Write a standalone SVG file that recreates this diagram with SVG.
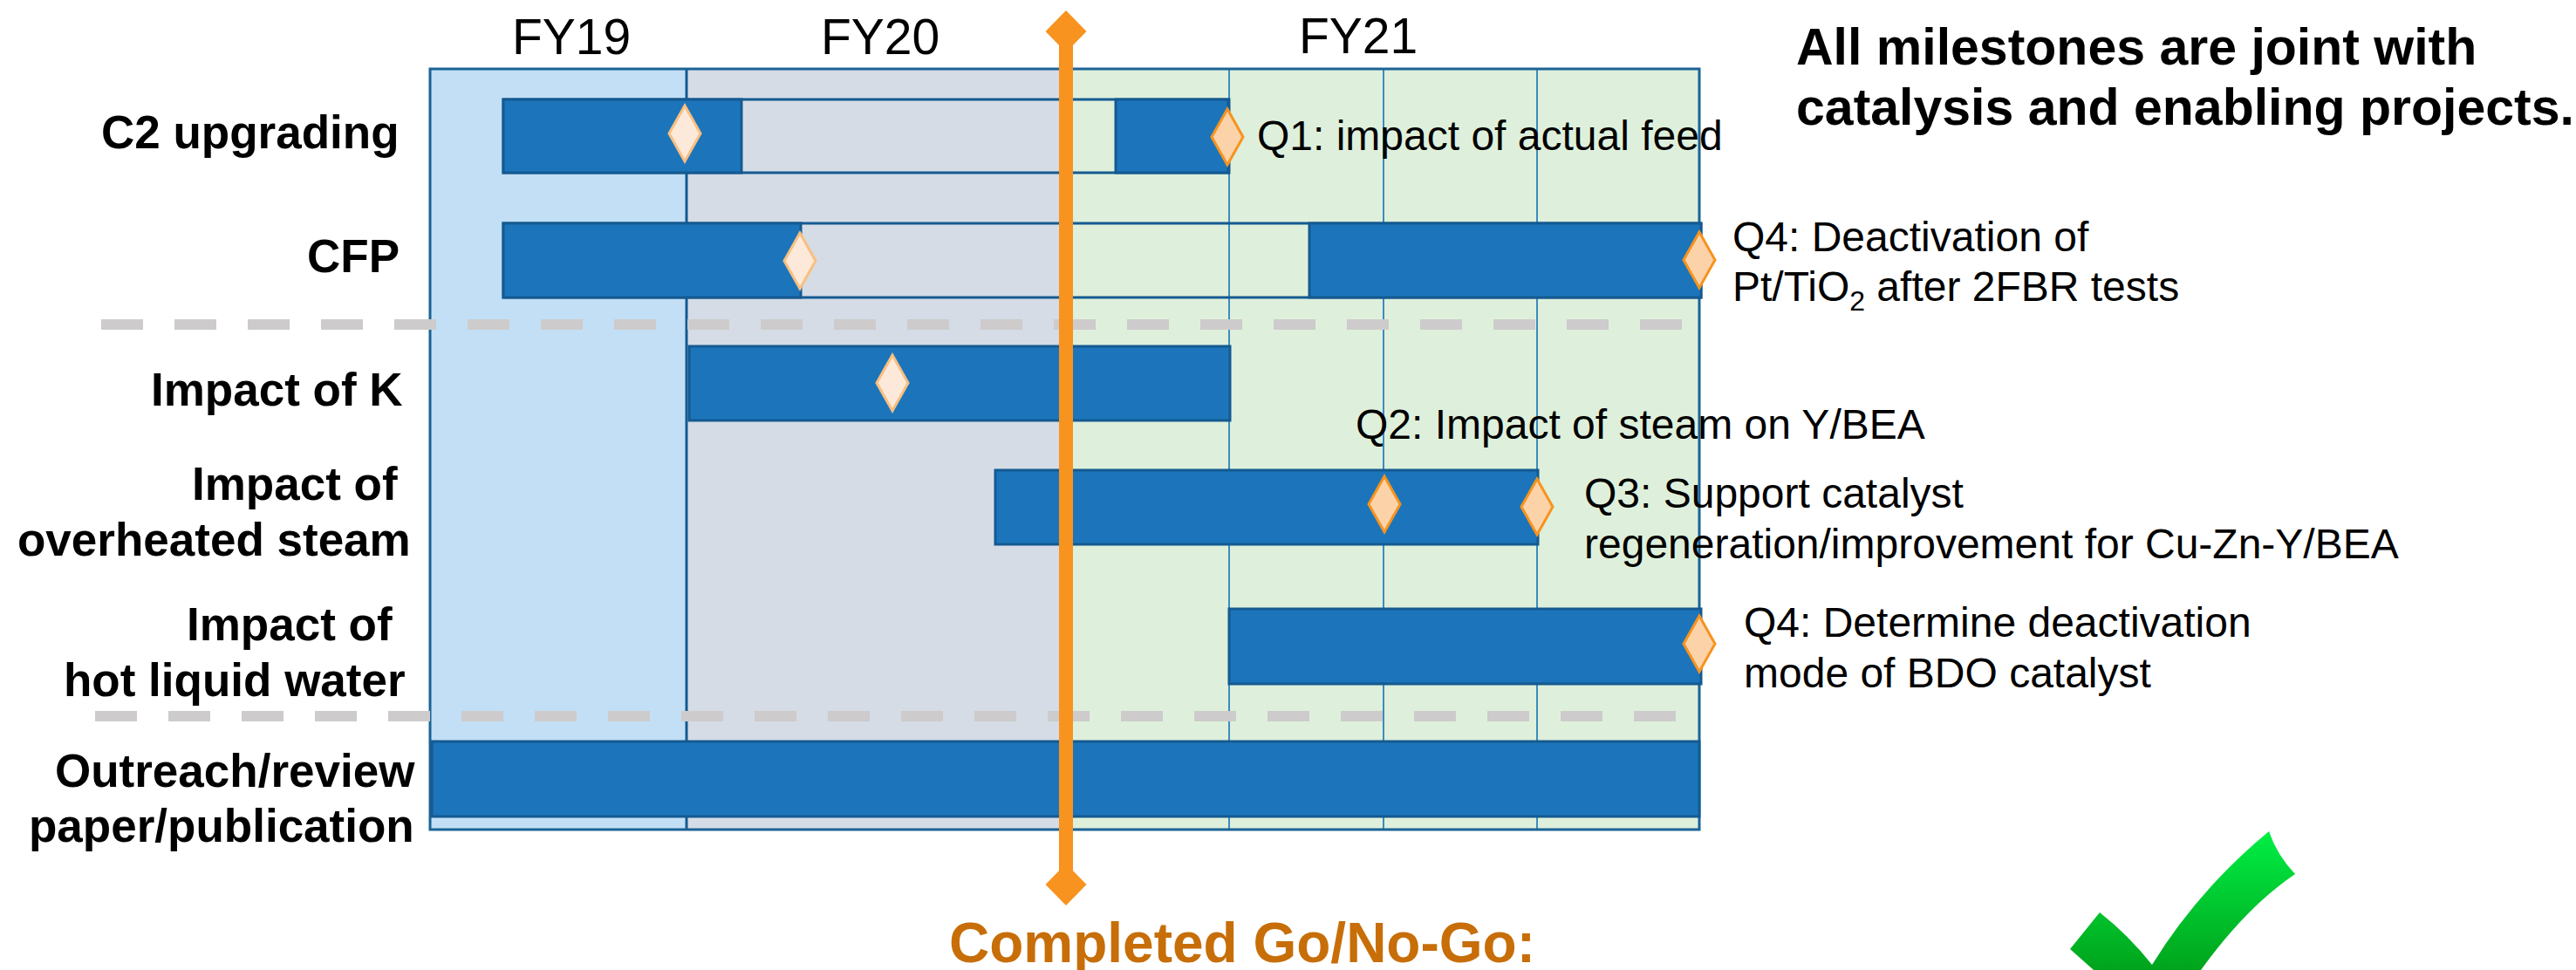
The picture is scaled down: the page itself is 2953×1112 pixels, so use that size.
<svg xmlns="http://www.w3.org/2000/svg" width="2953" height="1112" viewBox="0 0 2953 1112">
<defs>
<linearGradient id="chk" x1="0" y1="0" x2="0" y2="1"><stop offset="0" stop-color="#00EE44"/><stop offset="1" stop-color="#00A41C"/></linearGradient>
</defs>
<style>
text{font-family:"Liberation Sans",Arial,sans-serif;fill:#000}
.fy{font-size:57px}
.lab{font-size:48px}
.row{font-size:53px;font-weight:bold}
.head{font-size:59px;font-weight:bold}
.bar{fill:#1C75BB;stroke:#145A91;stroke-width:3}
.open{fill:none;stroke:#145A91;stroke-width:3}
.grid{stroke:#3D8BBF;stroke-width:2}
.dash{stroke:#CDCBCB;stroke-width:12;stroke-dasharray:48 36;fill:none}
.dl{fill:#FDE9D9;stroke:#F9BF80;stroke-width:3}
.dd{fill:#FCD3A8;stroke:#F7931E;stroke-width:3}
</style>
<rect width="2953" height="1112" fill="#fff"/>
<g id="timeline-frame">
<rect x="493" y="79" width="294" height="872" fill="#C3DFF5"/>
<rect x="787" y="79" width="435" height="872" fill="#D5DCE6"/>
<rect x="1222" y="79" width="726" height="872" fill="#DEF0DB"/>
<line class="grid" x1="1409" y1="79" x2="1409" y2="951"/>
<line class="grid" x1="1586" y1="79" x2="1586" y2="951"/>
<line class="grid" x1="1762" y1="79" x2="1762" y2="951"/>
<line x1="787" y1="79" x2="787" y2="951" stroke="#145A91" stroke-width="3"/>
<rect x="493" y="79" width="1455" height="872" fill="none" stroke="#1B6396" stroke-width="3"/>
<text class="fy" x="587" y="62">FY19</text>
<text class="fy" x="941" y="62">FY20</text>
<text class="fy" x="1489" y="61">FY21</text>
</g>
<g id="c2-upgrading">
<text class="row" x="116" y="170">C2 upgrading</text>
<rect class="open" x="577" y="114" width="832" height="84"/>
<rect class="bar" x="577" y="114" width="273" height="84"/>
<rect class="bar" x="1279" y="114" width="129" height="84"/>
</g>
<g id="cfp">
<text class="row" x="352" y="312">CFP</text>
<rect class="open" x="577" y="256" width="1373" height="85"/>
<rect class="bar" x="577" y="256" width="341" height="85"/>
<rect class="bar" x="1501" y="256" width="449" height="85"/>
</g>
<g id="impact-k">
<text class="row" x="173" y="465">Impact of K</text>
<rect class="bar" x="790" y="397" width="620" height="85"/>
</g>
<g id="impact-steam">
<text class="row" x="220" y="573">Impact of </text>
<text class="row" x="20" y="637">overheated steam</text>
<rect class="bar" x="1141" y="539" width="622" height="85"/>
</g>
<g id="impact-water">
<text class="row" x="214" y="734">Impact of </text>
<text class="row" x="73" y="798">hot liquid water</text>
<rect class="bar" x="1409" y="698" width="541" height="86"/>
</g>
<g id="outreach">
<text class="row" x="63" y="902">Outreach/review</text>
<text class="row" x="33" y="965">paper/publication</text>
<rect class="bar" x="495" y="850" width="1453" height="86"/>
</g>
<g id="connectors">
<line class="dash" x1="116" y1="372" x2="1934" y2="372"/>
<line class="dash" x1="109" y1="821" x2="1927" y2="821"/>
</g>
<g id="go-no-go">
<rect x="1214" y="36" width="16" height="978" fill="#F7931E"/>
<polygon points="1222,12 1245.500,36 1222,60 1198.500,36" fill="#F7931E"/>
<polygon points="1222,990 1245.500,1014 1222,1038 1198.500,1014" fill="#F7931E"/>
<text x="1088" y="1103" font-size="64" font-weight="bold" style="fill:#C76E08">Completed Go/No-Go:</text>
</g>
<g id="milestones">
<polygon class="dl" points="785,121 803,153 785,185 767,153"/>
<polygon class="dl" points="917,267 935,299 917,331 899,299"/>
<polygon class="dl" points="1023,407 1041,439 1023,471 1005,439"/>
<polygon class="dd" points="1407,125 1425,157 1407,189 1389,157"/>
<polygon class="dd" points="1948,266 1966,298 1948,330 1930,298"/>
<polygon class="dd" points="1587,546 1605,578 1587,610 1569,578"/>
<polygon class="dd" points="1762,549 1780,581 1762,613 1744,581"/>
<polygon class="dd" points="1948,706 1966,738 1948,770 1930,738"/>
</g>
<g id="milestone-labels">
<text class="lab" x="1441" y="172">Q1: impact of actual feed</text>
<text class="lab" x="1986" y="288">Q4: Deactivation of</text>
<text class="lab" x="1986" y="345">Pt/TiO<tspan font-size="32" dy="11">2</tspan><tspan dy="-11"> after 2FBR tests</tspan></text>
<text class="lab" x="1554" y="503">Q2: Impact of steam on Y/BEA</text>
<text class="lab" x="1816" y="582">Q3: Support catalyst</text>
<text class="lab" x="1816" y="640">regeneration/improvement for Cu-Zn-Y/BEA</text>
<text class="lab" x="1999" y="730">Q4: Determine deactivation</text>
<text class="lab" x="1999" y="788">mode of BDO catalyst</text>
</g>
<g id="note">
<text class="head" x="2059" y="74">All milestones are joint with</text>
<text class="head" x="2059" y="143">catalysis and enabling projects.</text>
</g>
<g id="check-mark">
<path d="M2373,1088 L2407,1046 Q2440,1072 2467,1106 Q2520,1020 2601,953 Q2610,980 2631,1002 Q2575,1040 2523,1112 L2400,1112 Z" fill="url(#chk)"/>
</g>
</svg>
